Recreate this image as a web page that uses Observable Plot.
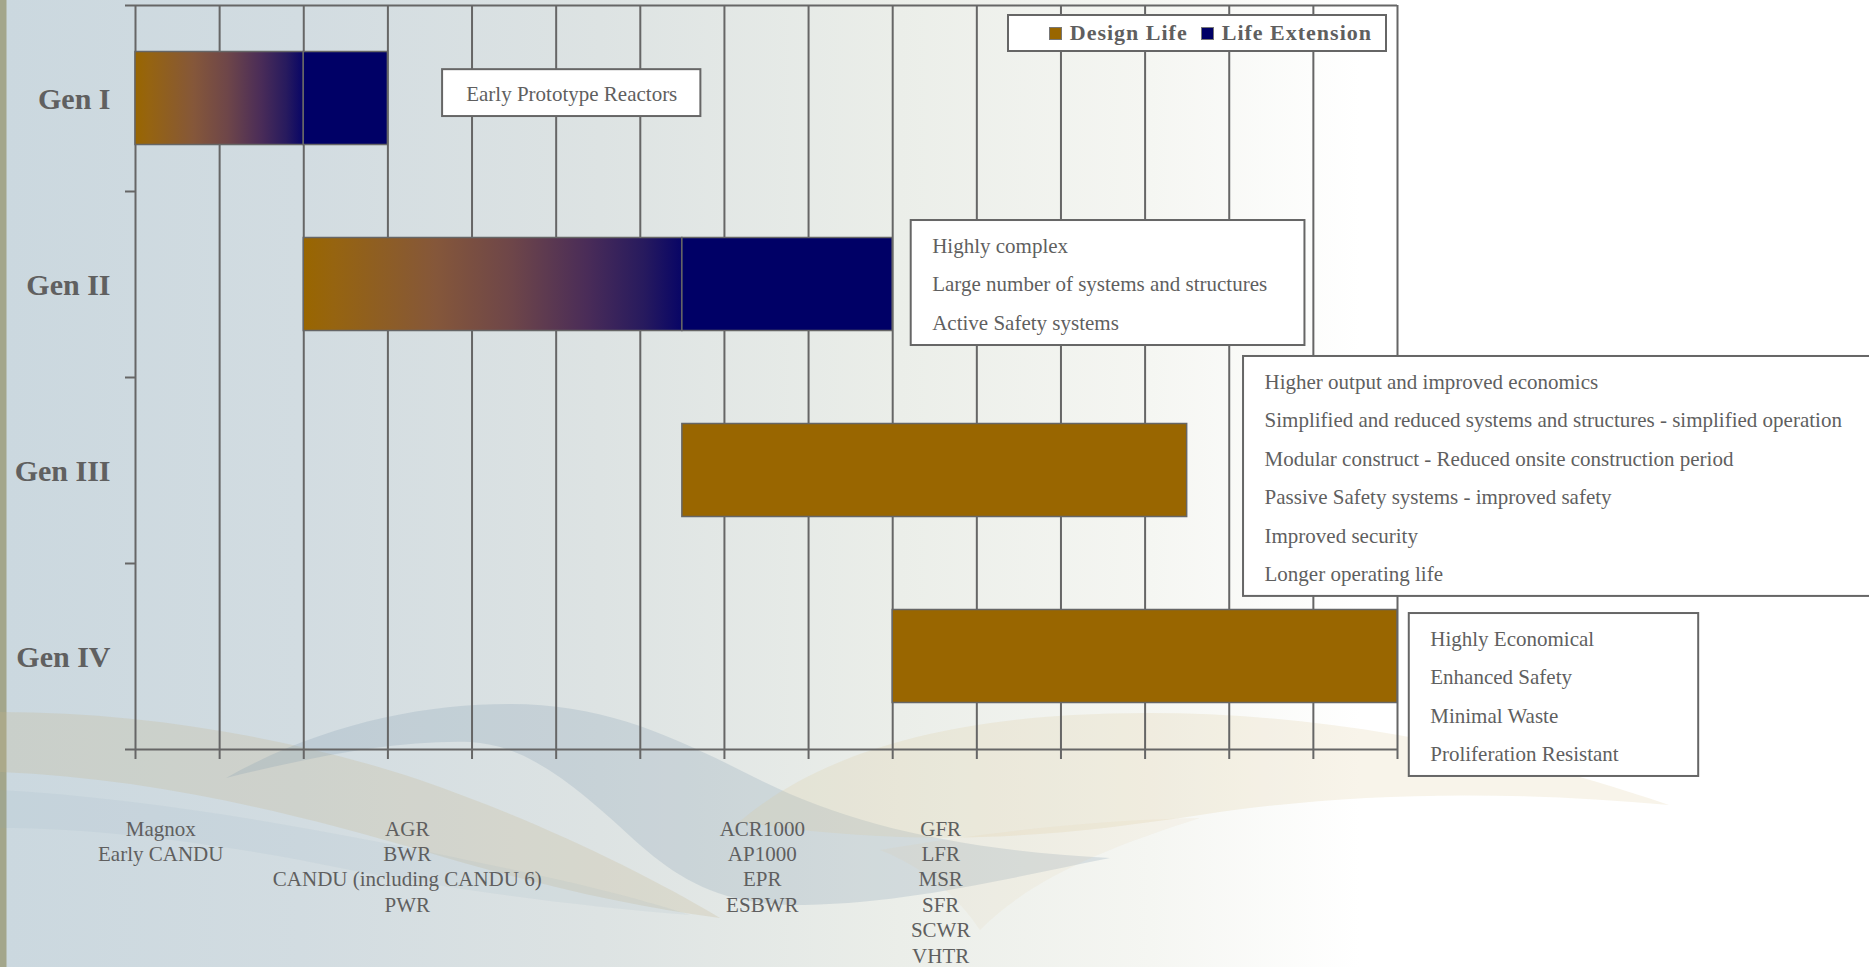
<!DOCTYPE html>
<html>
<head>
<meta charset="utf-8">
<script src="https://cdn.jsdelivr.net/npm/d3@7"></script>
<script src="https://cdn.jsdelivr.net/npm/@observablehq/plot@0.6"></script>
<style>
html, body { margin: 0; padding: 0; }
#page {
  position: relative; width: 1869px; height: 967px; overflow: hidden;
  background: linear-gradient(to right, #a3a68b 0px, #a3a68b 6px, #cbd8df 7px, #d2dce1 300px, #dde3e3 600px, #ebeee9 900px, #f5f6f2 1150px, #ffffff 1360px);
}
#waves, #chart { position: absolute; left: 0; top: 0; }
#legend {
  position: absolute; left: 1007px; top: 14px; width: 380px; height: 38px; box-sizing: border-box;
  border: 2px solid #666; background: #fff; display: flex; align-items: center; justify-content: flex-end;
  padding-right: 13px; font: bold 22px "Liberation Serif", "Times New Roman", serif; letter-spacing: 1px; color: #5f5f5f;
}
#legend .item { display: flex; align-items: center; margin-left: 13px; }
#legend .sw { display: inline-block; width: 13px; height: 13px; box-sizing: border-box; border: 1.5px solid #777; margin-right: 8px; }
</style>
</head>
<body>
<div id="page">
  <svg id="waves" width="1869" height="967" stroke="none">
    <!-- decorative background swooshes -->
    <path d="M0,712 C150,712 300,740 420,780 C530,818 640,870 720,918 C620,905 520,880 420,850 C290,812 150,778 0,772 Z" fill="rgba(198,180,136,0.24)"/>
    <path d="M0,790 C180,800 380,840 560,880 C620,894 660,905 690,915 C560,905 420,885 300,860 C180,838 80,828 0,828 Z" fill="rgba(140,165,182,0.10)"/>
    <path d="M226,778 C320,725 420,704 510,704 C610,704 680,740 760,780 C850,825 960,850 1110,858 C1000,880 900,905 790,905 C720,903 680,880 640,845 C580,790 530,745 470,742 C390,740 300,760 226,778 Z" fill="rgba(125,152,172,0.22)"/>
    <path d="M739,822 C800,770 900,725 1073,715 C1250,705 1450,730 1669,805 C1500,790 1350,792 1200,815 C1060,836 930,850 739,822 Z" fill="rgba(222,198,152,0.2)"/>
    <path d="M880,850 C1000,830 1100,820 1200,818 C1100,850 1030,880 980,930 C960,900 930,870 880,850 Z" fill="rgba(222,198,152,0.1)"/>
  </svg>
  <div id="chart"></div>
  <div id="legend"></div>
</div>
<script>
// ---- Data ----
const generations = ["Gen I", "Gen II", "Gen III", "Gen IV"];
const designStart = [1950, 1970, 2015, 2040];
const designEnd = [1970, 2015, 2075, 2100];
const extensionEnd = [1980, 2040, null, null];
const gridYears = [1950, 1960, 1970, 1980, 1990, 2000, 2010, 2020, 2030, 2040, 2050, 2060, 2070, 2080, 2090, 2100];
const reactorGroups = [
  ["Magnox", "Early CANDU"],
  ["AGR", "BWR", "CANDU (including CANDU 6)", "PWR"],
  ["ACR1000", "AP1000", "EPR", "ESBWR"],
  ["GFR", "LFR", "MSR", "SFR", "SCWR", "VHTR"]
];
const reactorYears = [1953, 1982.3, 2024.5, 2045.7];
const notes = [
  ["Early Prototype Reactors"],
  ["Highly complex", "Large number of systems and structures", "Active Safety systems"],
  ["Higher output and improved economics",
   "Simplified and reduced systems and structures - simplified operation",
   "Modular construct - Reduced onsite construction period",
   "Passive Safety systems - improved safety",
   "Improved security",
   "Longer operating life"],
  ["Highly Economical", "Enhanced Safety", "Minimal Waste", "Proliferation Resistant"]
];
const legendLabels = ["Design Life", "Life Extension"];
const legendColors = ["#996600", "#000066"];

// ---- Layout of note boxes (in chart units: years / generation bands) ----
const noteLayout = [
  {x1: 1986.5, x2: 2017.2, y1: 0.345, y2: 0.597, center: true},
  {x1: 2042.2, x2: 2089.0, y1: 1.156, y2: 1.828, center: false},
  {x1: 2081.7, x2: 2160.0, y1: 1.887, y2: 3.177, center: false},
  {x1: 2101.4, x2: 2135.8, y1: 3.269, y2: 4.145, center: false}
];

const bars = generations.map((g, i) => ({gen: g, i, start: designStart[i], end: designEnd[i], ext: extensionEnd[i]}));
const noteData = notes.map((lines, i) => ({...noteLayout[i], text: lines.join("\n")}));
const groupData = reactorGroups.map((lines, i) => ({x: reactorYears[i], text: lines.join("\n")}));

const grey = "#666";
const textGrey = "#5f5f5f";

const plot = Plot.plot({
  width: 1869,
  height: 967,
  marginLeft: 135,
  marginRight: 472,
  marginTop: 5,
  marginBottom: 218,
  x: {domain: [1950, 2100]},
  y: {domain: [0, 4], reverse: true},
  style: {background: "transparent", fontFamily: "'Liberation Serif', 'Times New Roman', serif", overflow: "visible"},
  marks: [
    Plot.ruleX(gridYears, {stroke: grey, strokeWidth: 2}),
    Plot.ruleY([0, 4], {stroke: grey, strokeWidth: 2}),
    Plot.axisX({ticks: gridYears, tickSize: 10, tickFormat: () => "", stroke: grey, strokeWidth: 2}),
    Plot.axisY({ticks: [0, 1, 2, 3, 4], tickSize: 10, tickFormat: () => "", stroke: grey, strokeWidth: 2}),
    // design life with gradient (generations that had extension)
    Plot.rect(bars, {filter: d => d.ext != null, x1: "start", x2: "end", y1: d => d.i + 0.25, y2: d => d.i + 0.75,
      fill: "url(#dlGrad)", stroke: grey, strokeWidth: 1.5}),
    // solid design life
    Plot.rect(bars, {filter: d => d.ext == null, x1: "start", x2: "end", y1: d => d.i + 0.25, y2: d => d.i + 0.75,
      fill: legendColors[0], stroke: grey, strokeWidth: 1.5}),
    // life extension
    Plot.rect(bars, {filter: d => d.ext != null, x1: "end", x2: "ext", y1: d => d.i + 0.25, y2: d => d.i + 0.75,
      fill: legendColors[1], stroke: grey, strokeWidth: 1.5}),
    // generation labels
    Plot.text(generations, {y: (d, i) => i + 0.5, frameAnchor: "left", textAnchor: "end", dx: -25, dy: 1,
      fontSize: 30, fontWeight: "bold", fill: "#606060"}),
    // note boxes
    Plot.rect(noteData, {x1: "x1", x2: "x2", y1: "y1", y2: "y2", fill: "white", stroke: grey, strokeWidth: 2}),
    Plot.text(noteData, {filter: d => !d.center, x: "x1", y: "y1", text: "text", textAnchor: "start", lineAnchor: "top",
      dx: 21, dy: 5, fontSize: 21, lineHeight: 1.833, fill: textGrey}),
    Plot.text(noteData, {filter: d => d.center, x: d => (d.x1 + d.x2) / 2, y: "y1", text: "text", textAnchor: "middle", lineAnchor: "top",
      dy: 4, fontSize: 21, lineHeight: 1.833, fill: textGrey}),
    // reactor type groups under the axis
    Plot.text(groupData, {x: "x", text: "text", frameAnchor: "bottom", lineAnchor: "top", dy: 68,
      fontSize: 21, lineHeight: 1.21, fill: textGrey})
  ]
});

// gradient for design-life bars that fade into life extension
const defs = d3.create("svg:defs");
const grad = defs.append("linearGradient").attr("id", "dlGrad").attr("x1", 0).attr("x2", 1).attr("y1", 0).attr("y2", 0);
[[0, "#996600"], [0.08, "#966410"], [0.35, "#85573a"], [0.55, "#6e4649"], [0.75, "#4a2c58"], [0.9, "#271a5e"], [1, "#080566"]]
  .forEach(([o, c]) => grad.append("stop").attr("offset", o).attr("stop-color", c));
plot.insertBefore(defs.node(), plot.firstChild);

document.getElementById("chart").appendChild(plot);

// legend
const legend = d3.select("#legend");
legendLabels.forEach((label, i) => {
  const item = legend.append("div").attr("class", "item");
  item.append("span").attr("class", "sw").style("background", legendColors[i]);
  item.append("span").text(label);
});
</script>
</body>
</html>
